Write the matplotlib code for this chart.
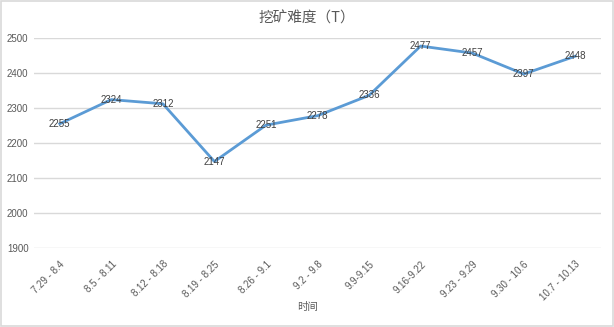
import matplotlib
matplotlib.use("Agg")
import matplotlib.pyplot as plt

plt.rcParams['font.family'] = ['Noto Sans CJK SC', 'DejaVu Sans']

categories = ["7.29 - 8.4", "8.5 - 8.11", "8.12 - 8.18", "8.19 - 8.25", "8.26 - 9.1",
              "9.2 - 9.8", "9.9-9.15", "9.16-9.22", "9.23 - 9.29", "9.30 - 10.6", "10.7 - 10.13"]
values = [2255, 2324, 2312, 2147, 2251, 2278, 2336, 2477, 2457, 2397, 2448]
yticks = [1900, 2000, 2100, 2200, 2300, 2400, 2500]

fig = plt.figure(figsize=(6.14, 3.27), dpi=100)
fig.patch.set_facecolor('white')
fig.patches.append(plt.Rectangle((0.001, 0.002), 0.997, 0.995, transform=fig.transFigure,
                                 fill=False, edgecolor='#d9d9d9', linewidth=1.2))
ax = fig.add_axes([0.0554, 0.2416, 0.9235, 0.6422])
x = list(range(len(categories)))
ax.plot(x, values, color='#5b9bd5', linewidth=2, zorder=3)
for xi, v in zip(x, values):
    ax.text(xi, v, str(v), ha='center', va='center', fontsize=7, color='#404040', zorder=4,
            family=['Liberation Sans', 'DejaVu Sans'])
ax.set_xlim(-0.5, len(categories) - 0.5)
ax.set_ylim(1900, 2500)
ax.set_yticks(yticks)
ax.set_yticklabels([str(t) for t in yticks], fontsize=7, color='#595959',
                   family=['Liberation Sans', 'DejaVu Sans'])
ax.set_xticks(x)
ax.set_xticklabels(categories, rotation=45, ha='right', rotation_mode='anchor', fontsize=7,
                   color='#595959', family=['Liberation Sans', 'DejaVu Sans'])
ax.tick_params(axis='both', length=0, pad=4)
ax.tick_params(axis='x', pad=8)
for s in ax.spines.values():
    s.set_visible(False)
ax.grid(axis='y', color='#d9d9d9', linewidth=1)
ax.set_axisbelow(True)
fig.text(0.5, 0.945, "挖矿难度（T）", ha='center', va='center', fontsize=10.5, color='#595959')
fig.text(0.5, 0.06, "时间", ha='center', va='center', fontsize=7.5, color='#595959')
fig.savefig("out.png", dpi=100)
